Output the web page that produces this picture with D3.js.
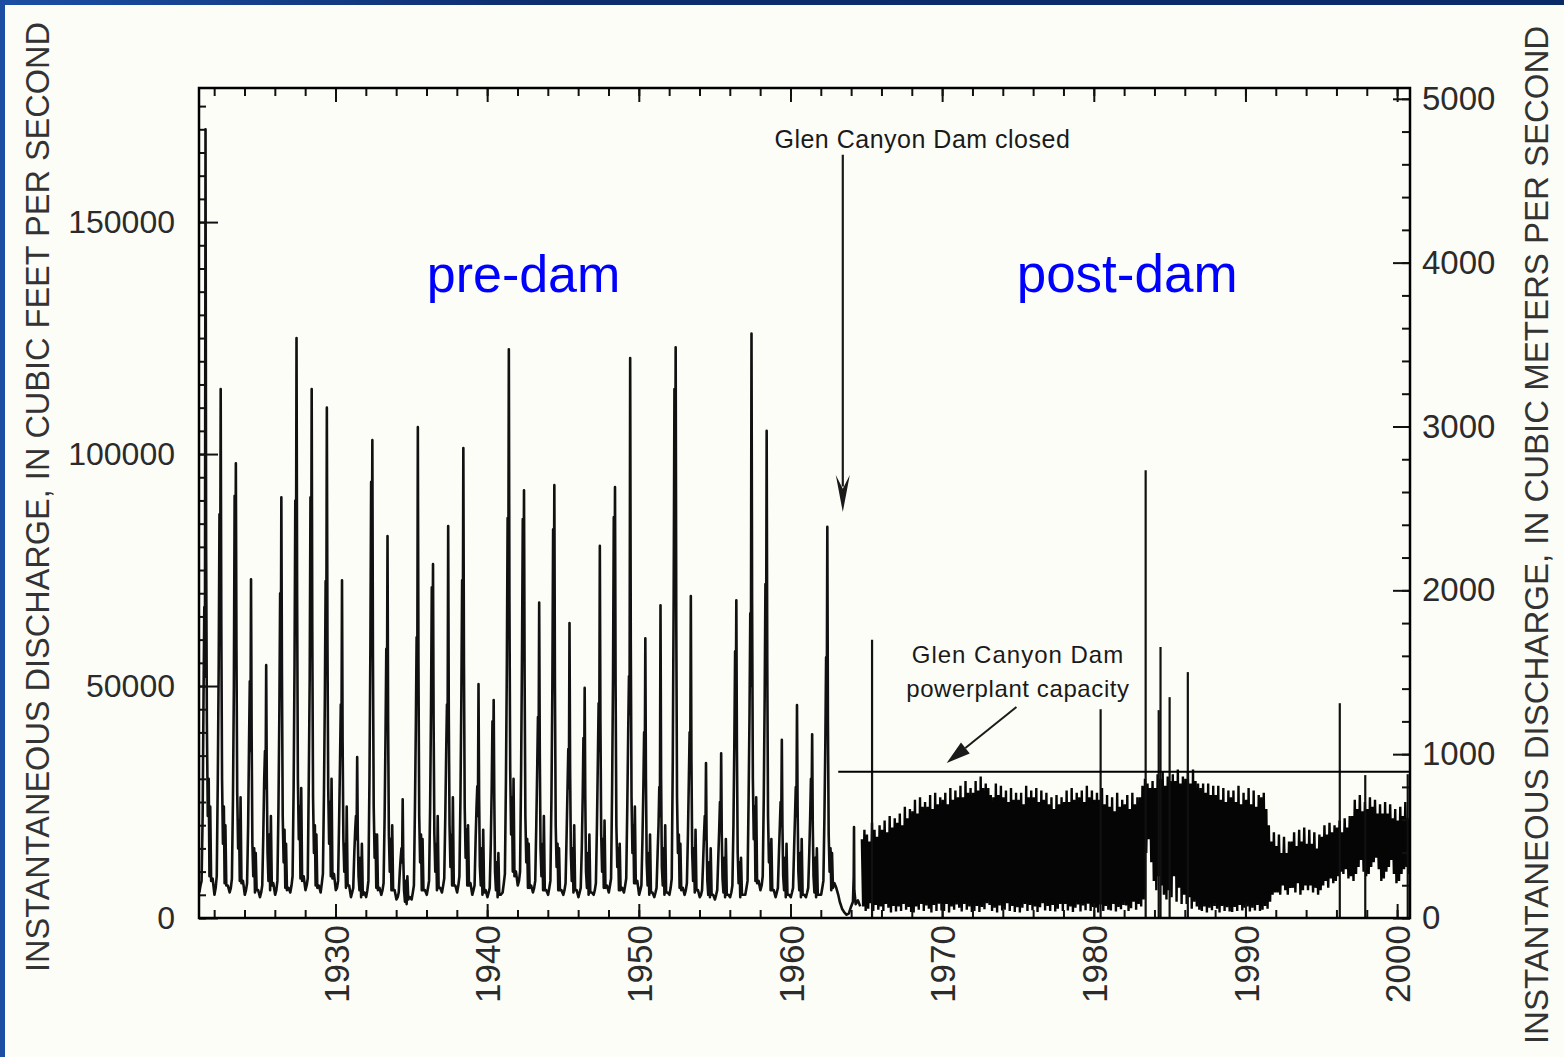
<!DOCTYPE html>
<html>
<head>
<meta charset="utf-8">
<script src="https://cdn.jsdelivr.net/npm/d3@7"></script>
<style>
  html, body { margin: 0; padding: 0; background: #fdfdf8; }
  svg { display: block; font-family: Arial, "Liberation Sans", sans-serif; }
</style>
</head>
<body>
<svg id="chart" width="1564" height="1057"></svg>
<script>
// ---- data (cubic feet per second) ----

// pre-dam years, each one a hydrograph sampled at fixed points of the year
const preDamYears = [1921, 1922, 1923, 1924, 1925, 1926, 1927, 1928, 1929, 1930,
  1931, 1932, 1933, 1934, 1935, 1936, 1937, 1938, 1939, 1940,
  1941, 1942, 1943, 1944, 1945, 1946, 1947, 1948, 1949, 1950,
  1951, 1952, 1953, 1954, 1955, 1956, 1957, 1958, 1959, 1960,
  1961, 1962];

// fraction of year: jan, feb, mar, apr, late apr, 1st peak, dip, peak, fall,
// late jun, early jul, jul storm, aug low, sep storm, sep low, nov
const seasonNodes = [0.02, 0.10, 0.17, 0.24, 0.30, 0.35, 0.39, 0.43, 0.47, 0.52,
  0.58, 0.64, 0.69, 0.74, 0.80, 0.90];

const preDamFlow = [
  [5500, 7000, 8000, 22000, 48000, 67000, 52000, 170000, 80000, 42000, 22000, 30000, 9000, 24000, 8000, 8500],
  [5000, 6500, 9000, 30000, 55000, 87000, 60000, 114000, 64000, 30000, 16000, 24000, 7500, 20000, 7000, 7000],
  [5500, 6500, 8500, 26000, 50000, 91000, 62000, 98000, 58000, 27000, 15000, 21000, 8000, 26000, 7500, 8000],
  [5000, 6000, 7500, 20000, 38000, 51000, 36000, 73000, 40000, 16000, 9000, 15000, 5500, 14000, 6000, 6000],
  [4500, 5500, 7000, 18000, 30000, 36000, 28000, 54500, 30000, 14000, 8000, 18000, 6000, 22000, 7000, 7500],
  [5000, 6000, 8000, 24000, 45000, 70000, 48000, 90700, 52000, 22000, 12000, 19000, 6500, 16000, 6000, 6500],
  [5500, 7000, 9000, 28000, 55000, 90000, 65000, 125000, 70000, 30000, 17000, 24000, 8500, 28000, 8000, 9000],
  [6000, 7000, 8500, 30000, 52000, 90700, 60000, 114000, 62000, 26000, 14000, 20000, 7000, 18000, 6500, 7000],
  [5500, 7500, 9500, 27000, 48000, 72600, 55000, 110000, 60000, 28000, 16000, 25000, 9000, 30000, 8500, 9500],
  [6000, 6500, 8000, 21000, 34000, 46000, 35000, 72800, 38000, 17000, 10000, 16000, 6500, 24000, 7000, 7000],
  [4500, 5500, 6500, 14000, 19000, 22000, 17000, 34700, 18000, 9000, 6000, 13000, 4500, 16000, 5000, 5500],
  [4500, 6000, 8000, 30000, 58000, 94000, 66000, 103000, 56000, 24000, 13000, 18000, 6500, 18000, 6000, 6500],
  [5000, 6000, 7500, 22000, 40000, 58000, 44000, 82300, 42000, 18000, 10000, 17000, 6000, 20000, 6000, 6000],
  [4000, 4500, 5500, 10000, 13000, 15000, 12000, 25600, 13000, 6000, 3500, 8000, 3000, 9000, 4000, 4500],
  [4000, 5500, 7000, 24000, 42000, 60500, 48000, 105800, 55000, 22000, 12000, 18000, 6000, 17000, 6000, 6000],
  [5000, 6500, 8000, 24000, 46000, 71300, 50000, 76300, 42000, 18000, 10000, 16000, 6000, 22000, 6500, 6500],
  [5500, 7000, 8500, 22000, 36000, 46000, 38000, 84500, 44000, 20000, 11000, 18000, 7000, 26000, 7000, 7000],
  [5500, 7000, 9000, 26000, 48000, 72800, 55000, 101300, 55000, 24000, 13000, 19000, 7000, 20000, 7000, 7500],
  [5000, 6000, 7000, 17000, 24000, 28400, 22000, 50400, 26000, 11000, 7000, 15000, 5000, 19000, 5500, 6000],
  [4500, 5500, 6500, 16000, 28000, 42400, 30000, 47000, 26000, 10000, 6000, 12000, 4500, 14000, 5000, 5000],
  [5500, 7500, 9500, 30000, 55000, 86200, 62000, 122600, 68000, 32000, 18000, 26000, 10000, 30000, 9000, 10000],
  [7000, 8000, 10000, 32000, 58000, 86000, 64000, 92200, 52000, 22000, 12000, 17000, 6500, 16000, 6500, 7000],
  [5500, 6500, 8000, 20000, 32000, 43300, 34000, 68000, 36000, 15000, 9000, 16000, 6000, 22000, 6000, 6000],
  [5000, 6500, 8000, 26000, 50000, 83800, 60000, 93300, 50000, 20000, 11000, 16000, 6000, 15000, 6000, 6000],
  [5000, 6000, 7500, 18000, 28000, 36400, 28000, 63600, 32000, 14000, 8000, 15000, 5500, 20000, 6000, 6000],
  [4500, 5500, 6500, 15000, 26000, 38800, 28000, 49600, 26000, 10000, 6500, 14000, 5000, 18000, 5500, 5500],
  [5000, 6000, 7500, 20000, 34000, 46300, 36000, 80200, 42000, 18000, 10000, 17000, 6500, 21000, 6500, 7000],
  [5500, 7000, 8500, 28000, 52000, 86400, 60000, 92900, 50000, 20000, 11000, 15000, 6000, 16000, 6000, 6500],
  [5500, 7000, 8500, 24000, 40000, 52100, 44000, 120700, 60000, 26000, 14000, 20000, 7500, 24000, 7500, 8000],
  [5000, 6000, 7000, 17000, 28000, 40000, 30000, 60300, 30000, 12000, 7000, 14000, 5000, 18000, 5500, 5500],
  [4500, 5500, 6500, 14000, 20000, 28200, 22000, 67400, 30000, 11000, 7000, 15000, 5000, 20000, 5500, 5500],
  [5000, 6500, 8500, 34000, 70000, 114000, 80000, 123000, 64000, 26000, 14000, 18000, 6500, 16000, 6000, 6500],
  [5000, 6000, 7500, 18000, 30000, 40000, 32000, 69400, 34000, 14000, 8000, 15000, 5500, 19000, 6000, 6000],
  [4500, 5000, 6000, 12000, 18000, 22000, 17000, 33400, 17000, 8000, 5000, 12000, 4500, 15000, 5000, 5000],
  [4000, 5000, 6000, 13000, 19000, 25000, 19000, 35500, 18000, 8500, 5500, 13000, 4500, 17000, 5000, 5000],
  [4500, 5500, 7000, 20000, 38000, 57500, 42000, 68500, 36000, 14000, 7500, 12000, 4500, 13000, 5000, 5000],
  [5000, 6500, 8000, 26000, 44000, 65700, 50000, 126000, 68000, 30000, 17000, 24000, 8000, 26000, 7500, 8000],
  [6000, 7000, 9000, 26000, 48000, 72000, 54000, 105000, 55000, 22000, 12000, 16000, 6000, 17000, 6000, 6000],
  [4500, 5500, 6500, 14000, 20000, 25000, 20000, 38400, 20000, 9000, 6000, 13000, 4500, 16000, 5000, 5000],
  [4500, 5500, 6500, 15000, 22000, 28200, 22000, 45900, 24000, 10000, 6000, 14000, 4500, 17000, 5000, 5000],
  [4500, 5500, 6500, 14000, 22000, 30000, 24000, 39600, 20000, 9000, 5500, 13000, 4500, 15000, 5000, 5000],
  [5000, 6500, 8000, 22000, 38000, 56200, 44000, 84300, 42000, 18000, 10000, 15000, 6000, 14000, 6500, 7500]
];

// dam closure, reservoir filling
const closureDates = [1963.02, 1963.15, 1963.25, 1963.40, 1963.55, 1963.70, 1963.85, 1964.00,
  1964.12, 1964.17, 1964.19, 1964.21, 1964.30, 1964.45, 1964.60];
const closureFlow = [6500, 5000, 3500, 2000, 1200, 700, 1000, 2500,
  3500, 9000, 19600, 6000, 3000, 3800, 2500];

// post-dam fluctuating releases: highs and lows, 6 of each per year
const postDamYears = [1964, 1965, 1966, 1967, 1968, 1969, 1970, 1971, 1972, 1973,
  1974, 1975, 1976, 1977, 1978, 1979, 1980, 1981, 1982, 1983,
  1984, 1985, 1986, 1987, 1988, 1989, 1990, 1991, 1992, 1993,
  1994, 1995, 1996, 1997, 1998, 1999, 2000];

const postDamHigh = [
  [null, null, null, null, 17000, 19000],
  [18000, 16500, 20500, 19000, 17500, 20000],
  [19000, 21000, 18500, 22000, 19500, 21500],
  [20500, 22500, 20000, 24000, 21500, 23500],
  [23000, 25500, 22500, 26000, 24000, 25000],
  [24000, 26500, 23500, 27000, 24500, 26000],
  [25500, 27000, 24500, 28000, 25500, 27500],
  [26000, 28500, 26000, 29500, 27000, 28000],
  [27000, 29500, 27500, 30500, 28000, 29000],
  [28000, 26500, 26000, 29000, 26500, 28500],
  [26000, 27500, 25000, 28000, 25500, 27000],
  [25500, 27000, 24500, 28500, 26000, 27500],
  [26000, 28000, 25000, 27500, 25500, 27000],
  [24500, 26000, 23500, 26500, 24500, 26000],
  [25000, 27500, 25000, 28000, 25500, 27000],
  [26000, 27500, 25000, 28500, 26000, 27500],
  [25500, 27000, 25500, 28000, 24500, 26500],
  [24000, 26000, 23000, 27000, 24000, 25500],
  [24500, 26500, 23500, 27000, 24500, 26000],
  [26000, 28500, 30000, 29000, 28000, 29500],
  [28000, 31000, 30000, 31500, 28500, 30500],
  [29500, 31000, 29500, 32000, 29000, 30500],
  [30000, 31500, 29000, 32000, 29500, 29000],
  [28000, 29000, 27000, 29000, 26500, 28500],
  [26500, 28500, 25500, 28000, 25000, 27500],
  [26000, 27500, 25000, 28500, 24500, 27000],
  [25500, 28000, 24500, 27500, 24000, 26500],
  [26000, 27000, 23500, 20000, 16500, 18500],
  [15500, 18000, 14000, 17500, 14000, 16500],
  [16500, 18500, 15500, 19000, 16500, 19500],
  [16000, 19000, 16000, 18500, 15000, 18000],
  [17500, 20000, 18000, 20500, 18500, 20000],
  [19500, 21000, 18500, 21500, 19500, 22000],
  [22000, 25500, 23500, 26500, 23000, 25000],
  [23500, 26000, 24000, 25500, 22500, 24500],
  [22500, 25000, 22500, 24500, 21500, 23500],
  [21000, 24000, 22000, 25000, 21500, 20000]
];

const postDamLow = [
  [null, null, null, null, 2500, 1500],
  [2000, 3200, 1500, 2800, 1800, 2500],
  [1500, 3000, 2200, 1200, 2600, 1400],
  [2500, 1500, 3000, 1800, 2400, 1300],
  [1200, 2500, 1800, 3000, 1500, 2700],
  [2000, 1200, 2800, 1500, 3100, 1600],
  [1500, 3000, 1200, 2500, 1800, 2900],
  [2200, 1400, 3000, 1800, 2500, 1300],
  [1500, 2600, 1300, 2400, 1900, 3200],
  [2800, 1500, 2200, 1200, 2700, 1600],
  [1800, 3200, 1500, 2600, 1300, 2300],
  [1200, 2200, 3000, 1500, 2800, 1700],
  [2500, 1300, 2300, 3200, 1600, 2600],
  [1500, 2800, 1400, 2000, 3000, 1500],
  [3000, 1600, 2500, 1300, 2200, 2900],
  [1400, 2700, 1700, 3100, 1500, 2400],
  [2200, 1200, 2900, 1500, 2600, 1800],
  [1600, 3000, 1400, 2400, 1900, 2800],
  [2700, 1500, 2100, 3500, 1800, 3000],
  [2500, 4000, 14000, 17000, 12000, 8000],
  [6000, 9000, 7000, 5000, 4000, 6000],
  [4500, 9000, 3500, 6500, 3000, 5000],
  [3000, 4500, 2000, 3500, 2500, 1800],
  [1500, 2500, 1200, 2200, 1700, 2600],
  [2000, 1200, 2600, 1500, 2300, 1400],
  [1300, 2400, 1500, 2800, 1600, 2200],
  [2500, 1400, 2200, 1600, 2800, 1500],
  [1800, 2600, 2000, 3500, 5000, 5500],
  [5500, 5000, 7000, 6000, 5000, 6500],
  [6500, 5500, 7500, 5000, 6000, 7000],
  [6000, 7000, 5500, 6500, 5000, 6000],
  [7000, 8000, 6500, 8500, 7500, 8000],
  [9000, 10000, 9500, 10500, 8500, 9000],
  [8000, 9500, 11000, 12500, 10000, 9000],
  [9500, 11000, 12000, 13000, 10500, 8000],
  [8500, 10000, 11000, 12500, 9500, 7500],
  [8000, 9500, 10500, 11000, 9500, 9000]
];

// single-day peaks after closure (floods, spills, test flows)
const spikeDates = [1965.38, 1980.45, 1983.42, 1984.28, 1984.40, 1985.00, 1986.20, 1996.22, 1997.90, 2000.70];
const spikeFlow = [60000, 45000, 96500, 44800, 58400, 47600, 53000, 46300, 30800, 31000];

const powerplantCapacity = 31500;
const closureYear = 1963.15;

const decadeTicks = [1930, 1940, 1950, 1960, 1970, 1980, 1990, 2000];
const cfsTicks = [0, 50000, 100000, 150000];
const cmsTicks = [0, 1000, 2000, 3000, 4000, 5000];
const CFS_PER_CMS = 35.3147;

// ---- layout ----
const W = 1564, H = 1057;
const margin = {top: 88, right: 154, bottom: 139, left: 199};
const width = W - margin.left - margin.right;
const height = H - margin.top - margin.bottom;
const bg = "#fdfdf8";

const svg = d3.select("#chart");

// background with the blue slide border on top and left
const defs = svg.append("defs");
const grad = defs.append("linearGradient").attr("id", "topband");
grad.append("stop").attr("offset", "0%").attr("stop-color", "#1c4fa3");
grad.append("stop").attr("offset", "35%").attr("stop-color", "#0d2d6e");
grad.append("stop").attr("offset", "100%").attr("stop-color", "#0b2a68");
svg.append("rect").attr("width", W).attr("height", H).attr("fill", bg);
svg.append("rect").attr("width", W).attr("height", 5).attr("fill", "url(#topband)");
svg.append("rect").attr("width", 5).attr("height", H).attr("fill", "#1b4ea2");

defs.append("clipPath").attr("id", "plotclip")
  .append("rect").attr("width", width).attr("height", height);

const g = svg.append("g").attr("transform", `translate(${margin.left},${margin.top})`);

const x = d3.scaleLinear().domain([1921, 2000.85]).range([0, width]);
const y = d3.scaleLinear().domain([0, 178900]).range([height, 0]);
const yM = d3.scaleLinear().domain([0, 178900 / CFS_PER_CMS]).range([height, 0]);

// ---- series ----
const preDamSeries = preDamYears.flatMap((yr, i) =>
  seasonNodes.map((t, j) => ({t: yr + t, q: preDamFlow[i][j]})))
  .concat(closureDates.map((t, i) => ({t: t, q: closureFlow[i]})));

// zigzag high, low, high, low ... one step every month
const postDamSeries = postDamYears.flatMap((yr, i) =>
  postDamHigh[i].flatMap((hi, k) => [
    {t: yr + (2 * k + 0.5) / 12, q: hi},
    {t: yr + (2 * k + 1.5) / 12, q: postDamLow[i][k]}
  ]));

const plot = g.append("g").attr("clip-path", "url(#plotclip)");
const line = d3.line().defined(d => d.q != null).x(d => x(d.t)).y(d => y(d.q));

plot.append("path")
  .datum(preDamSeries)
  .attr("fill", "none")
  .attr("stroke", "#111")
  .attr("stroke-width", 2.6)
  .attr("stroke-linejoin", "round")
  .attr("d", line);

plot.append("path")
  .datum(postDamSeries)
  .attr("fill", "none")
  .attr("stroke", "#050505")
  .attr("stroke-width", 2.4)
  .attr("stroke-linejoin", "bevel")
  .attr("d", line);

plot.selectAll("line.spike")
  .data(spikeDates)
  .enter()
  .append("line")
    .attr("class", "spike")
    .attr("x1", d => x(d)).attr("x2", d => x(d))
    .attr("y1", y(0))
    .attr("y2", (d, i) => y(spikeFlow[i]))
    .attr("stroke", "#111")
    .attr("stroke-width", 2.2);

// powerplant capacity
plot.append("line")
  .attr("x1", x(closureYear)).attr("x2", width)
  .attr("y1", y(powerplantCapacity)).attr("y2", y(powerplantCapacity))
  .attr("stroke", "#000")
  .attr("stroke-width", 2);

// ---- axes: ticks point inward, labels outside ----
function styleAxis(sel, size) {
  sel.select(".domain").remove();
  sel.attr("font-family", "Arial, 'Liberation Sans', sans-serif")
    .attr("font-size", size)
    .attr("color", "#111");
  sel.selectAll(".tick line").attr("stroke-width", 2);
  sel.selectAll("text").attr("fill", "#2b2b2b");
}

const evenYears = d3.range(1922, 2001, 2);

g.append("g").attr("transform", `translate(0,${height})`)
  .call(d3.axisBottom(x).tickValues(evenYears).tickSize(-8).tickSizeOuter(0).tickFormat(""))
  .call(s => styleAxis(s, 10));
g.append("g").attr("transform", `translate(0,${height})`)
  .call(d3.axisBottom(x).tickValues(decadeTicks).tickSize(-14).tickSizeOuter(0).tickFormat(d3.format("d")))
  .call(s => styleAxis(s, 35))
  .selectAll("text")
    .attr("transform", "rotate(-90)")
    .attr("x", -7)
    .attr("y", 0)
    .attr("dy", "0.36em")
    .style("text-anchor", "end");

g.append("g")
  .call(d3.axisTop(x).tickValues(evenYears).tickSize(-8).tickSizeOuter(0).tickFormat(""))
  .call(s => styleAxis(s, 10));
g.append("g")
  .call(d3.axisTop(x).tickValues(decadeTicks).tickSize(-14).tickSizeOuter(0).tickFormat(""))
  .call(s => styleAxis(s, 10));

g.append("g")
  .call(d3.axisLeft(y).tickValues(d3.range(0, 178000, 5000)).tickSize(-7).tickSizeOuter(0).tickFormat(""))
  .call(s => styleAxis(s, 10));
g.append("g")
  .call(d3.axisLeft(y).tickValues(cfsTicks).tickSize(-19).tickSizeOuter(0).tickPadding(24).tickFormat(d3.format("d")))
  .call(s => styleAxis(s, 32));

g.append("g").attr("transform", `translate(${width},0)`)
  .call(d3.axisRight(yM).tickValues(d3.range(0, 5001, 200)).tickSize(-8).tickSizeOuter(0).tickFormat(""))
  .call(s => styleAxis(s, 10));
g.append("g").attr("transform", `translate(${width},0)`)
  .call(d3.axisRight(yM).tickValues(cmsTicks).tickSize(-17).tickSizeOuter(0).tickPadding(12).tickFormat(d3.format("d")))
  .call(s => styleAxis(s, 33));

g.append("rect")
  .attr("width", width).attr("height", height)
  .attr("fill", "none")
  .attr("stroke", "#000")
  .attr("stroke-width", 2.5);

// axis titles
svg.append("text")
  .attr("transform", "translate(49,497) rotate(-90)")
  .attr("text-anchor", "middle")
  .attr("font-size", 32.5)
  .attr("fill", "#333")
  .text("INSTANTANEOUS DISCHARGE, IN CUBIC FEET PER SECOND");

svg.append("text")
  .attr("transform", "translate(1548,535) rotate(-90)")
  .attr("text-anchor", "middle")
  .attr("font-size", 33)
  .attr("fill", "#333")
  .text("INSTANTANEOUS DISCHARGE, IN CUBIC METERS PER SECOND");

// ---- annotations ----
const note = g.append("g").attr("fill", "#1a1a1a");

note.append("text")
  .attr("x", x(1968.7)).attr("y", y(166000))
  .attr("text-anchor", "middle")
  .attr("font-size", 25)
  .attr("letter-spacing", 0.5)
  .text("Glen Canyon Dam closed");

const arrowX = x(1963.45);
note.append("line")
  .attr("x1", arrowX).attr("x2", arrowX)
  .attr("y1", y(164500)).attr("y2", y(93000))
  .attr("stroke", "#1a1a1a").attr("stroke-width", 2.2);
note.append("path")
  .attr("d", d3.line()([[arrowX - 7, y(95500)], [arrowX, y(92500)], [arrowX + 7, y(95500)], [arrowX, y(87500)]]) + "Z");

note.append("text")
  .attr("x", x(1975.0)).attr("y", y(55000))
  .attr("text-anchor", "middle")
  .attr("font-size", 24)
  .attr("letter-spacing", 1)
  .text("Glen Canyon Dam");
note.append("text")
  .attr("x", x(1975.0)).attr("y", y(47600))
  .attr("text-anchor", "middle")
  .attr("font-size", 24)
  .attr("letter-spacing", 0.6)
  .text("powerplant capacity");

// diagonal arrow down to the capacity line
const p0 = [x(1974.9), y(45500)];
const p1 = [x(1970.3), y(33400)];
const ang = Math.atan2(p1[1] - p0[1], p1[0] - p0[0]);
const head = 24, half = 7;
const base = [p1[0] - head * Math.cos(ang), p1[1] - head * Math.sin(ang)];
note.append("line")
  .attr("x1", p0[0]).attr("y1", p0[1])
  .attr("x2", base[0]).attr("y2", base[1])
  .attr("stroke", "#1a1a1a").attr("stroke-width", 2);
note.append("path")
  .attr("d", d3.line()([
    p1,
    [base[0] - half * Math.sin(ang), base[1] + half * Math.cos(ang)],
    [base[0] + half * Math.sin(ang), base[1] - half * Math.cos(ang)]
  ]) + "Z");

g.append("text")
  .attr("x", x(1942.4)).attr("y", y(134900))
  .attr("text-anchor", "middle")
  .attr("font-size", 52)
  .attr("fill", "#0000ff")
  .text("pre-dam");
g.append("text")
  .attr("x", x(1982.2)).attr("y", y(134900))
  .attr("text-anchor", "middle")
  .attr("font-size", 53)
  .attr("fill", "#0000ff")
  .text("post-dam");
</script>
</body>
</html>
